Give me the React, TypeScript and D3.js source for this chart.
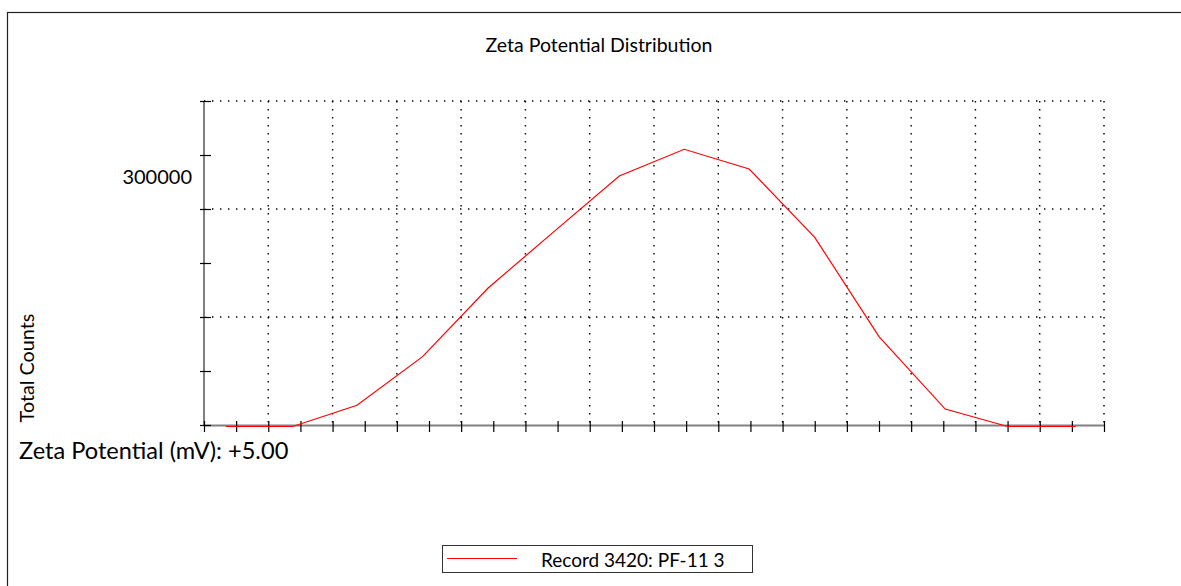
import { useEffect, useRef } from 'react';
import * as d3 from 'd3';

// Zeta potential (mV) and total counts
const zetaValues = [-66.6, -56.2, -46.2, -36.0, -25.8, -15.7, -5.4, 4.7, 14.8, 25.0, 35.0, 45.3, 55.0, 65.6];
const countValues = [0, 0, 23600, 77600, 153900, 215700, 278300, 308000, 286100, 210200, 99800, 19400, 0, 0];
const yTickLabels = [300000];
const seriesName = 'Record 3420: PF-11 3';

const W = 1181;
const H = 586;
const FONT = 'Lato, "Open Sans", sans-serif';

export default function App() {
  const svgRef = useRef<SVGSVGElement>(null);

  useEffect(() => {
    const svg = d3.select(svgRef.current);
    svg.selectAll('*').remove();

    const left = 204;
    const right = 1104;
    const top = 101;
    const bottom = 425;

    const x = d3.scaleLinear().domain([-70, 70]).range([left, right]);
    const y = d3.scaleLinear().domain([0, 360000]).range([bottom, top]);

    // outer frame (runs off the picture on the right and bottom)
    svg
      .append('rect')
      .attr('x', 7.5)
      .attr('y', 12.5)
      .attr('width', W)
      .attr('height', H)
      .attr('fill', 'none')
      .attr('stroke', '#222')
      .attr('stroke-width', 1.2);

    // title
    svg
      .append('text')
      .attr('x', 599)
      .attr('y', 52)
      .attr('text-anchor', 'middle')
      .style('font-family', FONT)
      .style('font-size', '19.5px')
      .style('fill', '#000')
      .text('Zeta Potential Distribution');

    // dotted grid
    const grid = svg.append('g').attr('stroke', '#000').attr('stroke-width', 1.4).attr('stroke-dasharray', '1.4,6.6');
    d3.range(-60, 71, 10).forEach((v) => {
      grid
        .append('line')
        .attr('x1', x(v))
        .attr('x2', x(v))
        .attr('y1', top)
        .attr('y2', bottom);
    });
    d3.range(120000, 360001, 120000).forEach((v) => {
      grid
        .append('line')
        .attr('x1', left)
        .attr('x2', right)
        .attr('y1', y(v))
        .attr('y2', y(v));
    });

    // axis lines
    svg
      .append('line')
      .attr('x1', left)
      .attr('x2', left)
      .attr('y1', top)
      .attr('y2', bottom)
      .attr('stroke', '#808080')
      .attr('stroke-width', 2);
    svg
      .append('line')
      .attr('x1', left)
      .attr('x2', right)
      .attr('y1', bottom + 0.5)
      .attr('y2', bottom + 0.5)
      .attr('stroke', '#808080')
      .attr('stroke-width', 2);

    // y ticks
    const yAxis = d3
      .axisLeft(y)
      .tickValues(d3.range(0, 360001, 60000))
      .tickSizeInner(4)
      .tickSizeOuter(0)
      .tickFormat(() => '');
    const gy = svg.append('g').attr('transform', `translate(${left},0)`).call(yAxis);
    gy.select('.domain').remove();
    gy.selectAll('.tick line').attr('x2', 7).attr('x1', -4).attr('stroke', '#000').attr('stroke-width', 1.2);

    // y tick labels (sit below their tick in the original)
    yTickLabels.forEach((v) => {
      svg
        .append('text')
        .attr('x', 192)
        .attr('y', y(v) + 29)
        .attr('text-anchor', 'end')
        .style('font-family', FONT)
        .style('font-size', '20px')
        .style('fill', '#000')
        .text(String(v));
    });

    // x ticks
    const xAxis = d3
      .axisBottom(x)
      .tickValues(d3.range(-70, 71, 5))
      .tickSizeInner(6)
      .tickSizeOuter(0)
      .tickFormat(() => '');
    const gx = svg.append('g').attr('transform', `translate(0,${bottom})`).call(xAxis);
    gx.select('.domain').remove();
    gx.selectAll('.tick line').attr('y1', -4).attr('y2', 7).attr('stroke', '#000').attr('stroke-width', 1.2);

    // series line
    const line = d3
      .line<number>()
      .x((_, i) => x(zetaValues[i]))
      .y((d) => y(d));
    svg
      .append('path')
      .datum(countValues)
      .attr('transform', 'translate(0,1.5)')
      .attr('d', line)
      .attr('fill', 'none')
      .attr('stroke', '#ff0000')
      .attr('stroke-width', 1.2);

    // axis titles
    svg
      .append('text')
      .attr('transform', 'translate(34,368) rotate(-90)')
      .attr('text-anchor', 'middle')
      .style('font-family', FONT)
      .style('font-size', '19.8px')
      .style('fill', '#000')
      .text('Total Counts');

    svg
      .append('text')
      .attr('x', 19)
      .attr('y', 459)
      .style('font-family', FONT)
      .style('font-size', '23.6px')
      .style('fill', '#000')
      .text('Zeta Potential (mV): +5.00');

    // legend
    const lg = svg.append('g');
    lg.append('rect')
      .attr('x', 442.5)
      .attr('y', 545.5)
      .attr('width', 310)
      .attr('height', 27)
      .attr('fill', '#fff')
      .attr('stroke', '#333')
      .attr('stroke-width', 1);
    lg.append('line')
      .attr('x1', 447)
      .attr('x2', 517)
      .attr('y1', 558.5)
      .attr('y2', 558.5)
      .attr('stroke', '#ff0000')
      .attr('stroke-width', 1.2);
    lg.append('text')
      .attr('x', 541)
      .attr('y', 567)
      .style('font-family', FONT)
      .style('font-size', '19px')
      .style('fill', '#000')
      .text(seriesName);
  }, []);

  return (
    <svg
      ref={svgRef}
      width={W}
      height={H}
      style={{ position: 'absolute', left: 0, top: 0, background: '#fff' }}
    />
  );
}
